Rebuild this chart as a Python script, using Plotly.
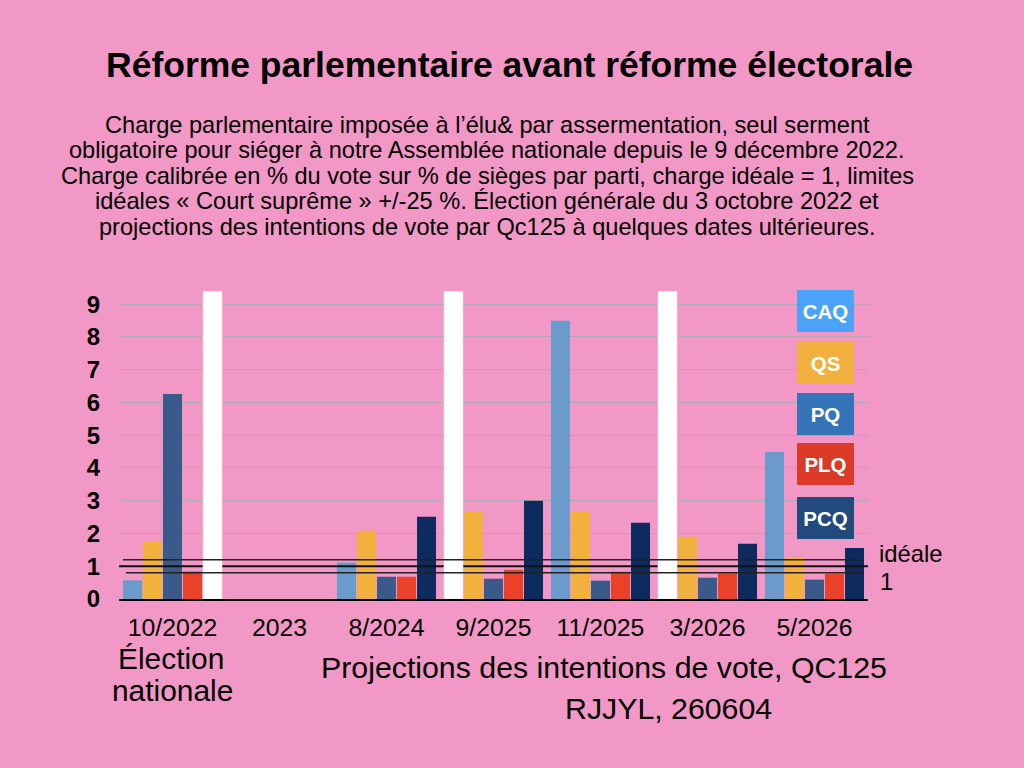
import plotly.graph_objects as go

INF = float("inf")

categories = ["10/2022", "2023", "8/2024", "9/2025", "11/2025", "3/2026", "5/2026"]
parties = ["CAQ", "QS", "PQ", "PLQ", "PCQ"]
caq = [0.57, None, 1.11, INF, 8.49, INF, 4.49]
qs = [1.75, None, 2.08, 2.67, 2.67, 1.90, 1.28]
pq = [6.26, None, 0.68, 0.62, 0.56, 0.65, 0.59]
plq = [0.84, None, 0.68, 0.89, 0.83, 0.78, 0.77]
pcq = [INF, None, 2.51, 3.00, 2.33, 1.69, 1.56]
series = [caq, qs, pq, plq, pcq]

bar_colors = ["#6B9BCC", "#F2B13D", "#3A5A8A", "#EA4129", "#0D2B5E"]
legend_colors = ["#4AA3F7", "#F2B13F", "#3574B8", "#DB3A27", "#204B7C"]

INF_CAP = 9.4          # infinite charge (0 seats) drawn up to the top
IDEAL = 1.0
LOW, HIGH = 0.8, 1.2
y_ticks = list(range(10))

W, H = 1024, 768
L, R, T, B = 119, 156, 291, 169
BG = "#F298C6"
FONT = "Liberation Sans, Arial, sans-serif"


def px(x, y):
    return (x - L) / (W - L - R), 1 - (y - T) / (H - T - B)


fig = go.Figure()
xs = list(range(len(categories)))

# coloured bars (main subplot)
for name, vals, col in zip(parties, series, bar_colors):
    fig.add_trace(go.Bar(
        x=xs, y=[None if (v is None or v == INF) else v for v in vals],
        name=name, marker=dict(color=col, line=dict(width=0)),
        showlegend=False, hoverinfo="skip"))

# ideal line (between coloured and white bars)
fig.add_trace(go.Scatter(x=[-0.5, len(categories) - 0.5], y=[IDEAL, IDEAL],
                         mode="lines", line=dict(color="#111111", width=2.2),
                         showlegend=False, hoverinfo="skip"))

# white "infinite" bars on an overlaid subplot (drawn above)
for name, vals in zip(parties, series):
    fig.add_trace(go.Bar(
        x=xs, y=[INF_CAP if v == INF else None for v in vals],
        name=name + " inf", marker=dict(color="white", line=dict(width=0.6, color="#F7D5E6")),
        xaxis="x2", yaxis="y2", showlegend=False, hoverinfo="skip"))

fig.update_layout(
    width=W, height=H,
    paper_bgcolor=BG, plot_bgcolor=BG,
    margin=dict(l=L, r=R, t=T, b=B, pad=0),
    barmode="group", bargap=0.065, bargroupgap=0.05,
    font=dict(family=FONT, color="black"),
    xaxis=dict(range=[-0.5, len(categories) - 0.5], tickvals=xs, ticktext=categories,
               showgrid=False, zeroline=False, showline=True, linecolor="black", linewidth=1.5,
               ticks="", tickfont=dict(size=24.8, family=FONT), ticklabelstandoff=5),
    yaxis=dict(range=[0, INF_CAP], tickvals=y_ticks, showgrid=True, gridcolor="#B3A9AE",
               gridwidth=1, zeroline=False, showline=False, ticks="",
               tickfont=dict(size=24, family=FONT, weight="bold"), ticklabelstandoff=18),
    xaxis2=dict(overlaying="x", range=[-0.5, len(categories) - 0.5], visible=False, anchor="y2"),
    yaxis2=dict(overlaying="y", range=[0, INF_CAP], visible=False, anchor="x2"),
)

# bound lines (above everything)
for yv, x0, x1 in [(HIGH, 123, 863), (LOW, 126, 862)]:
    fig.add_shape(type="line", xref="paper", yref="y", x0=px(x0, 0)[0], x1=px(x1, 0)[0],
                  y0=yv, y1=yv, line=dict(color="#222222", width=1.6), layer="above")

annots = []


def txt(text, x, y, size, bold=False, xanchor="center", **kw):
    ax, ay = px(x, y)
    annots.append(dict(text=text, x=ax, y=ay, xref="paper", yref="paper", showarrow=False,
                       xanchor=xanchor, yanchor="middle",
                       font=dict(size=size, family=FONT, color=kw.pop("color", "black"),
                                 weight="bold" if bold else "normal"), **kw))


txt("Réforme parlementaire avant réforme électorale", 509, 65, 35.5, bold=True)
sub = [
    "Charge parlementaire imposée à l’élu& par assermentation, seul serment",
    "obligatoire pour siéger à notre Assemblée nationale depuis le 9 décembre 2022.",
    "Charge calibrée en % du vote sur % de sièges par parti, charge idéale = 1, limites",
    "idéales « Court suprême » +/-25 %. Élection générale du 3 octobre 2022 et",
    "projections des intentions de vote par Qc125 à quelques dates ultérieures.",
]
for i, s in enumerate(sub):
    txt(s, 487, 125 + i * 25.4, 23.6)

txt("Élection", 171, 658, 29.9)
txt("nationale", 172, 690, 29.9)
txt("Projections des intentions de vote, QC125", 604, 667, 30.3)
txt("RJJYL, 260604", 668, 708, 30.3)
txt("idéale", 877, 553, 23.8, xanchor="left")
txt("1", 878, 581, 23.8, xanchor="left")

legend_pos = [311, 362.5, 414, 463.5, 517.5]
for name, col, yc in zip(parties, legend_colors, legend_pos):
    ax, ay = px(825.5, yc)
    annots.append(dict(text="<b>%s</b>" % name, x=ax, y=ay, xref="paper", yref="paper",
                       showarrow=False, xanchor="center", yanchor="middle",
                       width=57, height=42, bgcolor=col, borderpad=0, borderwidth=0,
                       font=dict(size=20.5, family=FONT, color="white")))

fig.update_layout(annotations=annots)
fig.write_html("out.html", config={"displayModeBar": False},
               post_script="document.body.style.margin='0';"
                           "document.body.style.background='%s';" % BG)
